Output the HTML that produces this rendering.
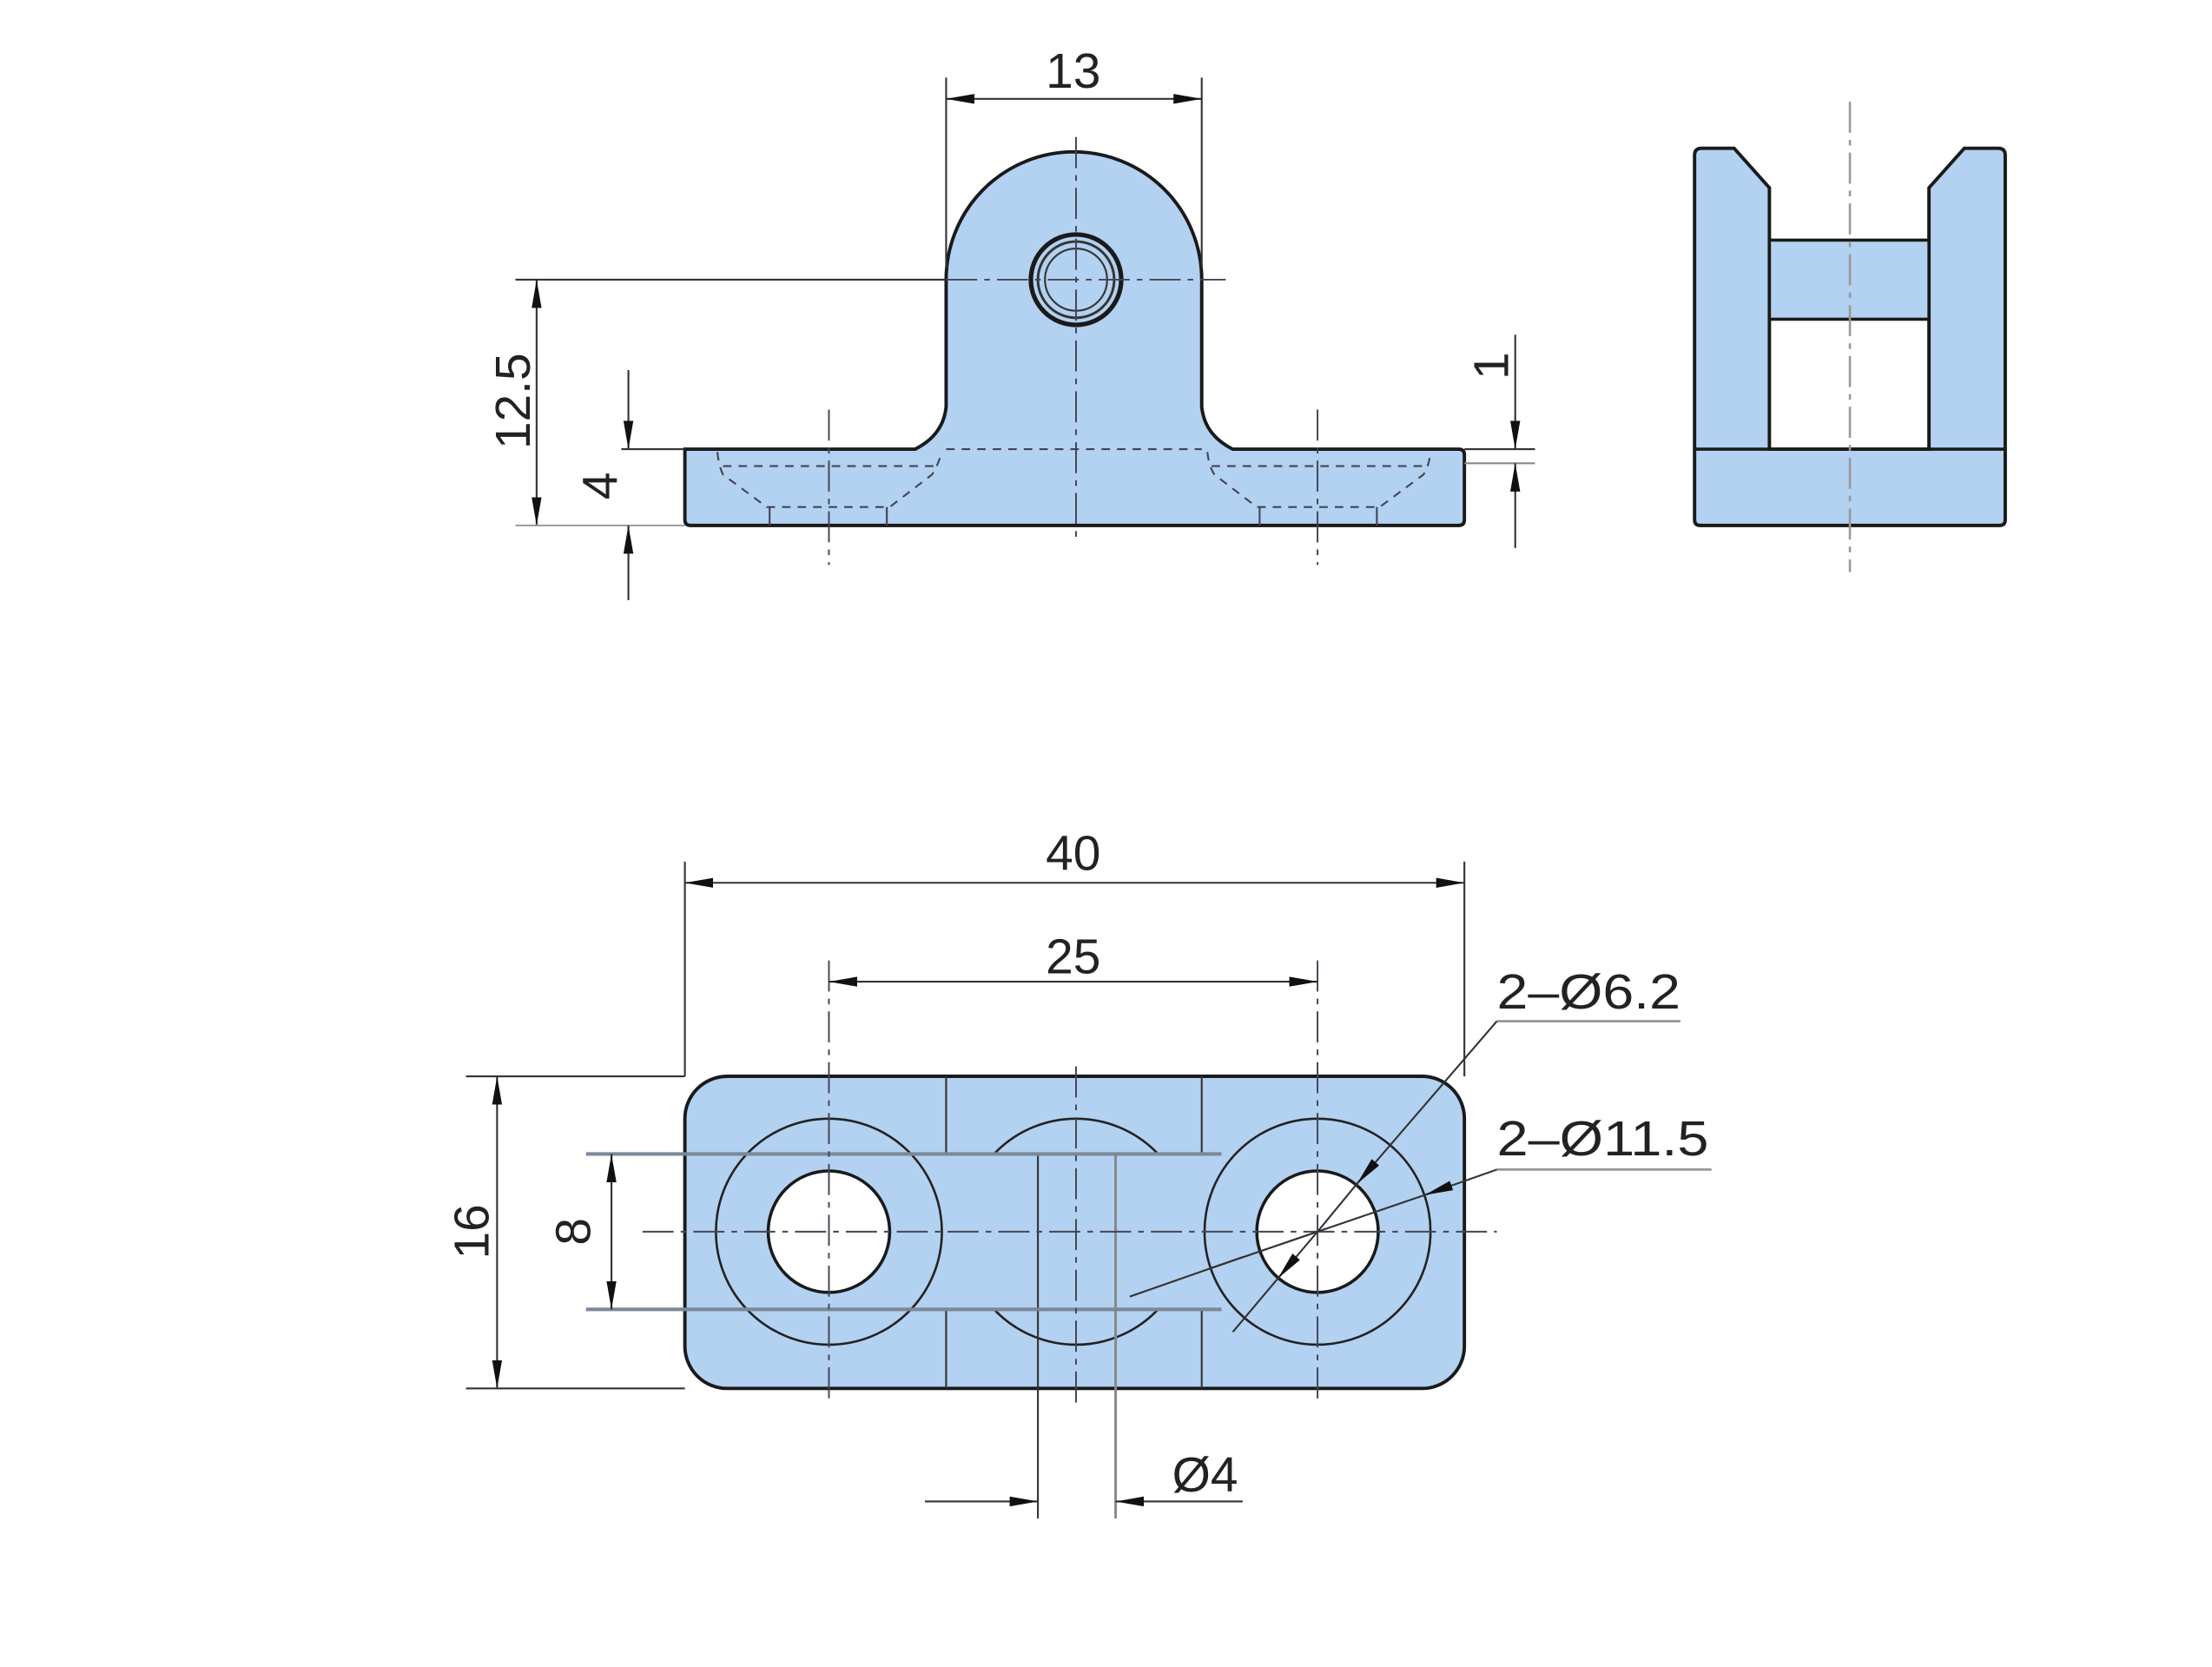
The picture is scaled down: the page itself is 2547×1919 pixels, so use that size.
<!DOCTYPE html>
<html><head><meta charset="utf-8"><style>
html,body{margin:0;padding:0;background:#fff;}
svg{display:block;}
text{font-family:"Liberation Sans",sans-serif;fill:#222;}
</style></head><body>
<svg width="2547" height="1919" viewBox="0 0 2547 1919" xmlns="http://www.w3.org/2000/svg">
<defs>
<marker id="a" viewBox="0 0 20 10" refX="20" refY="5" markerWidth="20" markerHeight="10" markerUnits="userSpaceOnUse" orient="auto-start-reverse">
<path d="M0,1.5 L20,5 L0,8.5 Z" fill="#111"/></marker>
</defs>
<g transform="scale(1.626,1.626)">
<!-- FRONT VIEW -->
<path d="M485,318 L648,318 Q668,308 670,288 L670,198 A90.5,90.5 0 0 1 851,198 L851,288 Q853,308 873,318 L1033,318 Q1037,318 1037,322 L1037,368 Q1037,372 1033,372 L489,372 Q485,372 485,368 Z" fill="#b3d1f0" stroke="#1a1a1a" stroke-width="2.4"/>
<g stroke="#445" stroke-width="1.3" fill="none" stroke-dasharray="6,5">
<line x1="670" y1="318" x2="851" y2="318"/>
<path d="M508,320 Q509,330 512,336 L543,359 L630,359 L660,336 Q664,330 667,320"/>
<line x1="512" y1="330" x2="662" y2="330"/>
<path d="M855,320 Q856,330 860,336 L890,359 L977,359 L1008,336 Q1012,330 1013,320"/>
<line x1="858" y1="330" x2="1010" y2="330"/>
</g>
<g stroke="#445" stroke-width="1.3">
<line x1="545" y1="359" x2="545" y2="372"/><line x1="628" y1="359" x2="628" y2="372"/>
<line x1="892" y1="359" x2="892" y2="372"/><line x1="975" y1="359" x2="975" y2="372"/>
</g>
<circle cx="762" cy="198" r="32" fill="none" stroke="#1a1a1a" stroke-width="3.2"/>
<circle cx="762" cy="198" r="27" fill="none" stroke="#333" stroke-width="1.8"/>
<circle cx="762" cy="198" r="22" fill="none" stroke="#333" stroke-width="1.3"/>
<g stroke="#445" stroke-width="1.2" stroke-dasharray="22,5,4,5">
<line x1="762" y1="97" x2="762" y2="383"/>
<line x1="587" y1="290" x2="587" y2="400"/>
<line x1="933" y1="290" x2="933" y2="400"/>
<line x1="670" y1="198" x2="868" y2="198"/>
</g>
<g stroke="#333" stroke-width="1.3" fill="none">
<line x1="670" y1="55" x2="670" y2="190"/><line x1="851" y1="55" x2="851" y2="190"/>
<line x1="670" y1="70" x2="851" y2="70" marker-start="url(#a)" marker-end="url(#a)"/>
<line x1="365" y1="198" x2="670" y2="198"/>
<line x1="380" y1="198" x2="380" y2="372" marker-start="url(#a)" marker-end="url(#a)"/>
<line x1="365" y1="372" x2="485" y2="372" stroke="#999"/>
<line x1="440" y1="318" x2="485" y2="318"/>
<line x1="445" y1="262" x2="445" y2="318" marker-end="url(#a)"/>
<line x1="445" y1="425" x2="445" y2="372" marker-end="url(#a)"/>
<line x1="1037" y1="318" x2="1087" y2="318"/>
<line x1="1037" y1="328" x2="1087" y2="328" stroke="#888"/>
<line x1="1073" y1="237" x2="1073" y2="318" marker-end="url(#a)"/>
<line x1="1073" y1="388" x2="1073" y2="328" marker-end="url(#a)"/>
</g>
<text x="760" y="62" font-size="35" text-anchor="middle">13</text>
<text transform="translate(375,284) rotate(-90)" font-size="35" text-anchor="middle">12.5</text>
<text transform="translate(437,344) rotate(-90)" font-size="35" text-anchor="middle">4</text>
<text transform="translate(1068,259) rotate(-90)" font-size="35" text-anchor="middle">1</text>

<!-- SIDE VIEW -->
<path d="M1200,110 Q1200,105 1205,105 L1228,105 L1253,133 L1253,318 L1366,318 L1366,133 L1391,105 L1415,105 Q1420,105 1420,110 L1420,368 Q1420,372 1416,372 L1204,372 Q1200,372 1200,368 Z" fill="#b3d1f0" stroke="#1a1a1a" stroke-width="2.4"/>
<rect x="1253" y="170" width="113" height="56" fill="#b3d1f0" stroke="#1a1a1a" stroke-width="2.2"/>
<line x1="1200" y1="318" x2="1420" y2="318" stroke="#1a1a1a" stroke-width="2.2"/>
<line x1="1310" y1="72" x2="1310" y2="405" stroke="#999" stroke-width="1.6" stroke-dasharray="22,5,4,5"/>

<!-- TOP VIEW -->
<rect x="485" y="762" width="552" height="221" rx="30" fill="#b3d1f0" stroke="#1a1a1a" stroke-width="2.4"/>
<circle cx="762" cy="872" r="80" fill="none" stroke="#222" stroke-width="1.6"/>
<rect x="671" y="818" width="179" height="108" fill="#b3d1f0"/>
<circle cx="587" cy="872" r="80" fill="none" stroke="#222" stroke-width="1.6"/>
<circle cx="933" cy="872" r="80" fill="none" stroke="#222" stroke-width="1.6"/>
<circle cx="587" cy="872" r="43" fill="#fff" stroke="#1a1a1a" stroke-width="2.2"/>
<circle cx="933" cy="872" r="43" fill="#fff" stroke="#1a1a1a" stroke-width="2.2"/>
<g stroke="#333" stroke-width="1.3">
<line x1="670" y1="762" x2="670" y2="817"/><line x1="670" y1="927" x2="670" y2="983"/>
<line x1="851" y1="762" x2="851" y2="817"/><line x1="851" y1="927" x2="851" y2="983"/>
<line x1="735" y1="817" x2="735" y2="1075"/>
</g>
<line x1="790" y1="817" x2="790" y2="1075" stroke="#888" stroke-width="1.8"/>
<g stroke="#7a8898" stroke-width="2.5">
<line x1="415" y1="817" x2="865" y2="817"/><line x1="415" y1="927" x2="865" y2="927"/>
</g>
<g stroke="#445" stroke-width="1.2" stroke-dasharray="22,5,4,5">
<line x1="455" y1="872" x2="1060" y2="872"/>
<line x1="587" y1="680" x2="587" y2="995"/>
<line x1="933" y1="680" x2="933" y2="995"/>
<line x1="762" y1="755" x2="762" y2="995"/>
</g>
<g stroke="#333" stroke-width="1.3" fill="none">
<line x1="485" y1="610" x2="485" y2="762"/><line x1="1037" y1="610" x2="1037" y2="762"/>
<line x1="485" y1="625" x2="1037" y2="625" marker-start="url(#a)" marker-end="url(#a)"/>
<line x1="587" y1="695" x2="933" y2="695" marker-start="url(#a)" marker-end="url(#a)"/>
<line x1="330" y1="762" x2="485" y2="762"/><line x1="330" y1="983" x2="485" y2="983"/>
<line x1="352" y1="762" x2="352" y2="983" marker-start="url(#a)" marker-end="url(#a)"/>
<line x1="433" y1="817" x2="433" y2="927" marker-start="url(#a)" marker-end="url(#a)"/>
<line x1="655" y1="1063" x2="735" y2="1063" marker-end="url(#a)"/>
<line x1="880" y1="1063" x2="790" y2="1063" marker-end="url(#a)"/>
<!-- leaders -->
<line x1="1060" y1="723" x2="1190" y2="723" stroke="#999" stroke-width="1.8"/>
<line x1="1060" y1="723" x2="961" y2="838" marker-end="url(#a)"/>
<line x1="961" y1="838" x2="933" y2="872"/>
<line x1="933" y1="872" x2="905" y2="905" marker-end="url(#a)"/>
<line x1="905" y1="905" x2="873" y2="943"/>
<line x1="1060" y1="828" x2="1212" y2="828" stroke="#999" stroke-width="1.8"/>
<line x1="1060" y1="828" x2="1009" y2="846" marker-end="url(#a)"/>
<line x1="1009" y1="846" x2="857" y2="898"/>
<line x1="933" y1="872" x2="857" y2="898"/>
<line x1="880" y1="890" x2="800" y2="918"/>
</g>
<text x="760" y="616" font-size="35" text-anchor="middle">40</text>
<text x="760" y="689" font-size="35" text-anchor="middle">25</text>
<text transform="translate(346,872) rotate(-90)" font-size="35" text-anchor="middle">16</text>
<text transform="translate(418,872) rotate(-90)" font-size="35" text-anchor="middle">8</text>
<text x="1060" y="714" font-size="35" textLength="130" lengthAdjust="spacingAndGlyphs">2–Ø6.2</text>
<text x="1060" y="818" font-size="35" textLength="150" lengthAdjust="spacingAndGlyphs">2–Ø11.5</text>
<text x="830" y="1056" font-size="35">Ø4</text>
</g>
</svg>
</body></html>
